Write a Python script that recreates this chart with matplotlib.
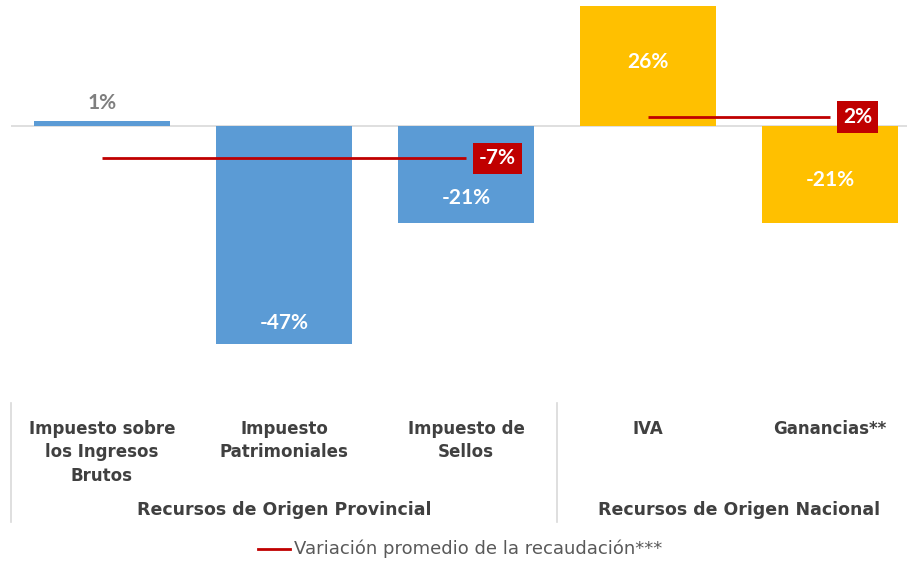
import matplotlib
matplotlib.use("Agg")
import matplotlib.pyplot as plt
from matplotlib.lines import Line2D
import matplotlib.transforms as mtransforms

# ---- data ----
categories = ["Impuesto sobre\nlos Ingresos\nBrutos", "Impuesto\nPatrimoniales",
              "Impuesto de\nSellos", "IVA", "Ganancias**"]
values = [1, -47, -21, 26, -21]
groups = ["Recursos de Origen Provincial", "Recursos de Origen Nacional"]
group_members = [[0, 1, 2], [3, 4]]
group_avg = [-7, 2]
legend_label = "Variación promedio de la recaudación***"

# ---- style ----
bar_colors = ["#5B9BD5", "#5B9BD5", "#5B9BD5", "#FFC000", "#FFC000"]
label_colors = ["#7F7F7F", "white", "white", "white", "white"]
label_offset_px = [18, -21, -25, -56, -43]   # from bar end, positive = outward
RED = "#C00000"
GRID = "#D9D9D9"
TXT = "#404040"

W, H = 907, 561
fig = plt.figure(figsize=(W / 100, H / 100), dpi=100)
ax_left, ax_right = 11, 921
ax_top, ax_bot = 0, 381
ax = fig.add_axes([ax_left / W, 1 - ax_bot / H, (ax_right - ax_left) / W, (ax_bot - ax_top) / H])
ax.set_xlim(-0.5, len(values) - 0.5)
ppu = 4.63
zero_px = 126
ax.set_ylim(-(ax_bot - zero_px) / ppu, (zero_px - ax_top) / ppu)
ax.axis("off")

x = list(range(len(values)))
ax.bar(x, values, width=0.75, color=bar_colors, zorder=2)
ax.axhline(0, color=GRID, lw=1.2, zorder=1)

for i, v in enumerate(values):
    sign = 1 if v >= 0 else -1
    ax.annotate(f"{v}%", (i, v), xytext=(0, sign * label_offset_px[i]),
                textcoords="offset pixels", ha="center", va="center",
                fontsize=15, fontweight="bold", family="Lato",
                color=label_colors[i], zorder=4)

# average lines
for members, avg in zip(group_members, group_avg):
    x0, x1 = members[0], members[-1]
    ax.plot([x0, x1], [avg, avg], color=RED, lw=2, zorder=3, solid_capstyle="butt")
    ax.annotate(f"{avg}%", (x1, avg), xytext=(13, 0), textcoords="offset pixels",
                ha="left", va="center", fontsize=15, fontweight="bold", family="Lato",
                color="white", zorder=5,
                bbox=dict(boxstyle="square,pad=0.28", fc=RED, ec="none"))

# category labels
trans = mtransforms.blended_transform_factory(ax.transData, fig.transFigure)
for i, c in enumerate(categories):
    ax.text(i, 1 - 420 / H, c, transform=trans, ha="center", va="top",
            fontsize=12, fontweight="bold", family="DejaVu Sans", color=TXT,
            linespacing=1.38, clip_on=False)

# separators
seps = [-0.5, 2.5, 4.5]
for s in seps:
    ax.add_line(Line2D([s, s], [1 - 403 / H, 1 - 522 / H], transform=trans,
                       color=GRID, lw=1.2, clip_on=False))

for g, members in zip(groups, group_members):
    cx = (members[0] + members[-1]) / 2
    ax.text(cx, 1 - 510 / H, g, transform=trans, ha="center", va="center",
            fontsize=12.5, fontweight="bold", family="DejaVu Sans", color=TXT, clip_on=False)

# legend
fig.add_artist(Line2D([258 / W, 290 / W], [1 - 549 / H, 1 - 549 / H], color=RED, lw=2))
fig.text(294 / W, 1 - 549 / H, legend_label, ha="left", va="center", fontsize=13,
         family="DejaVu Sans", color="#595959")

fig.savefig("out.png", dpi=100)
